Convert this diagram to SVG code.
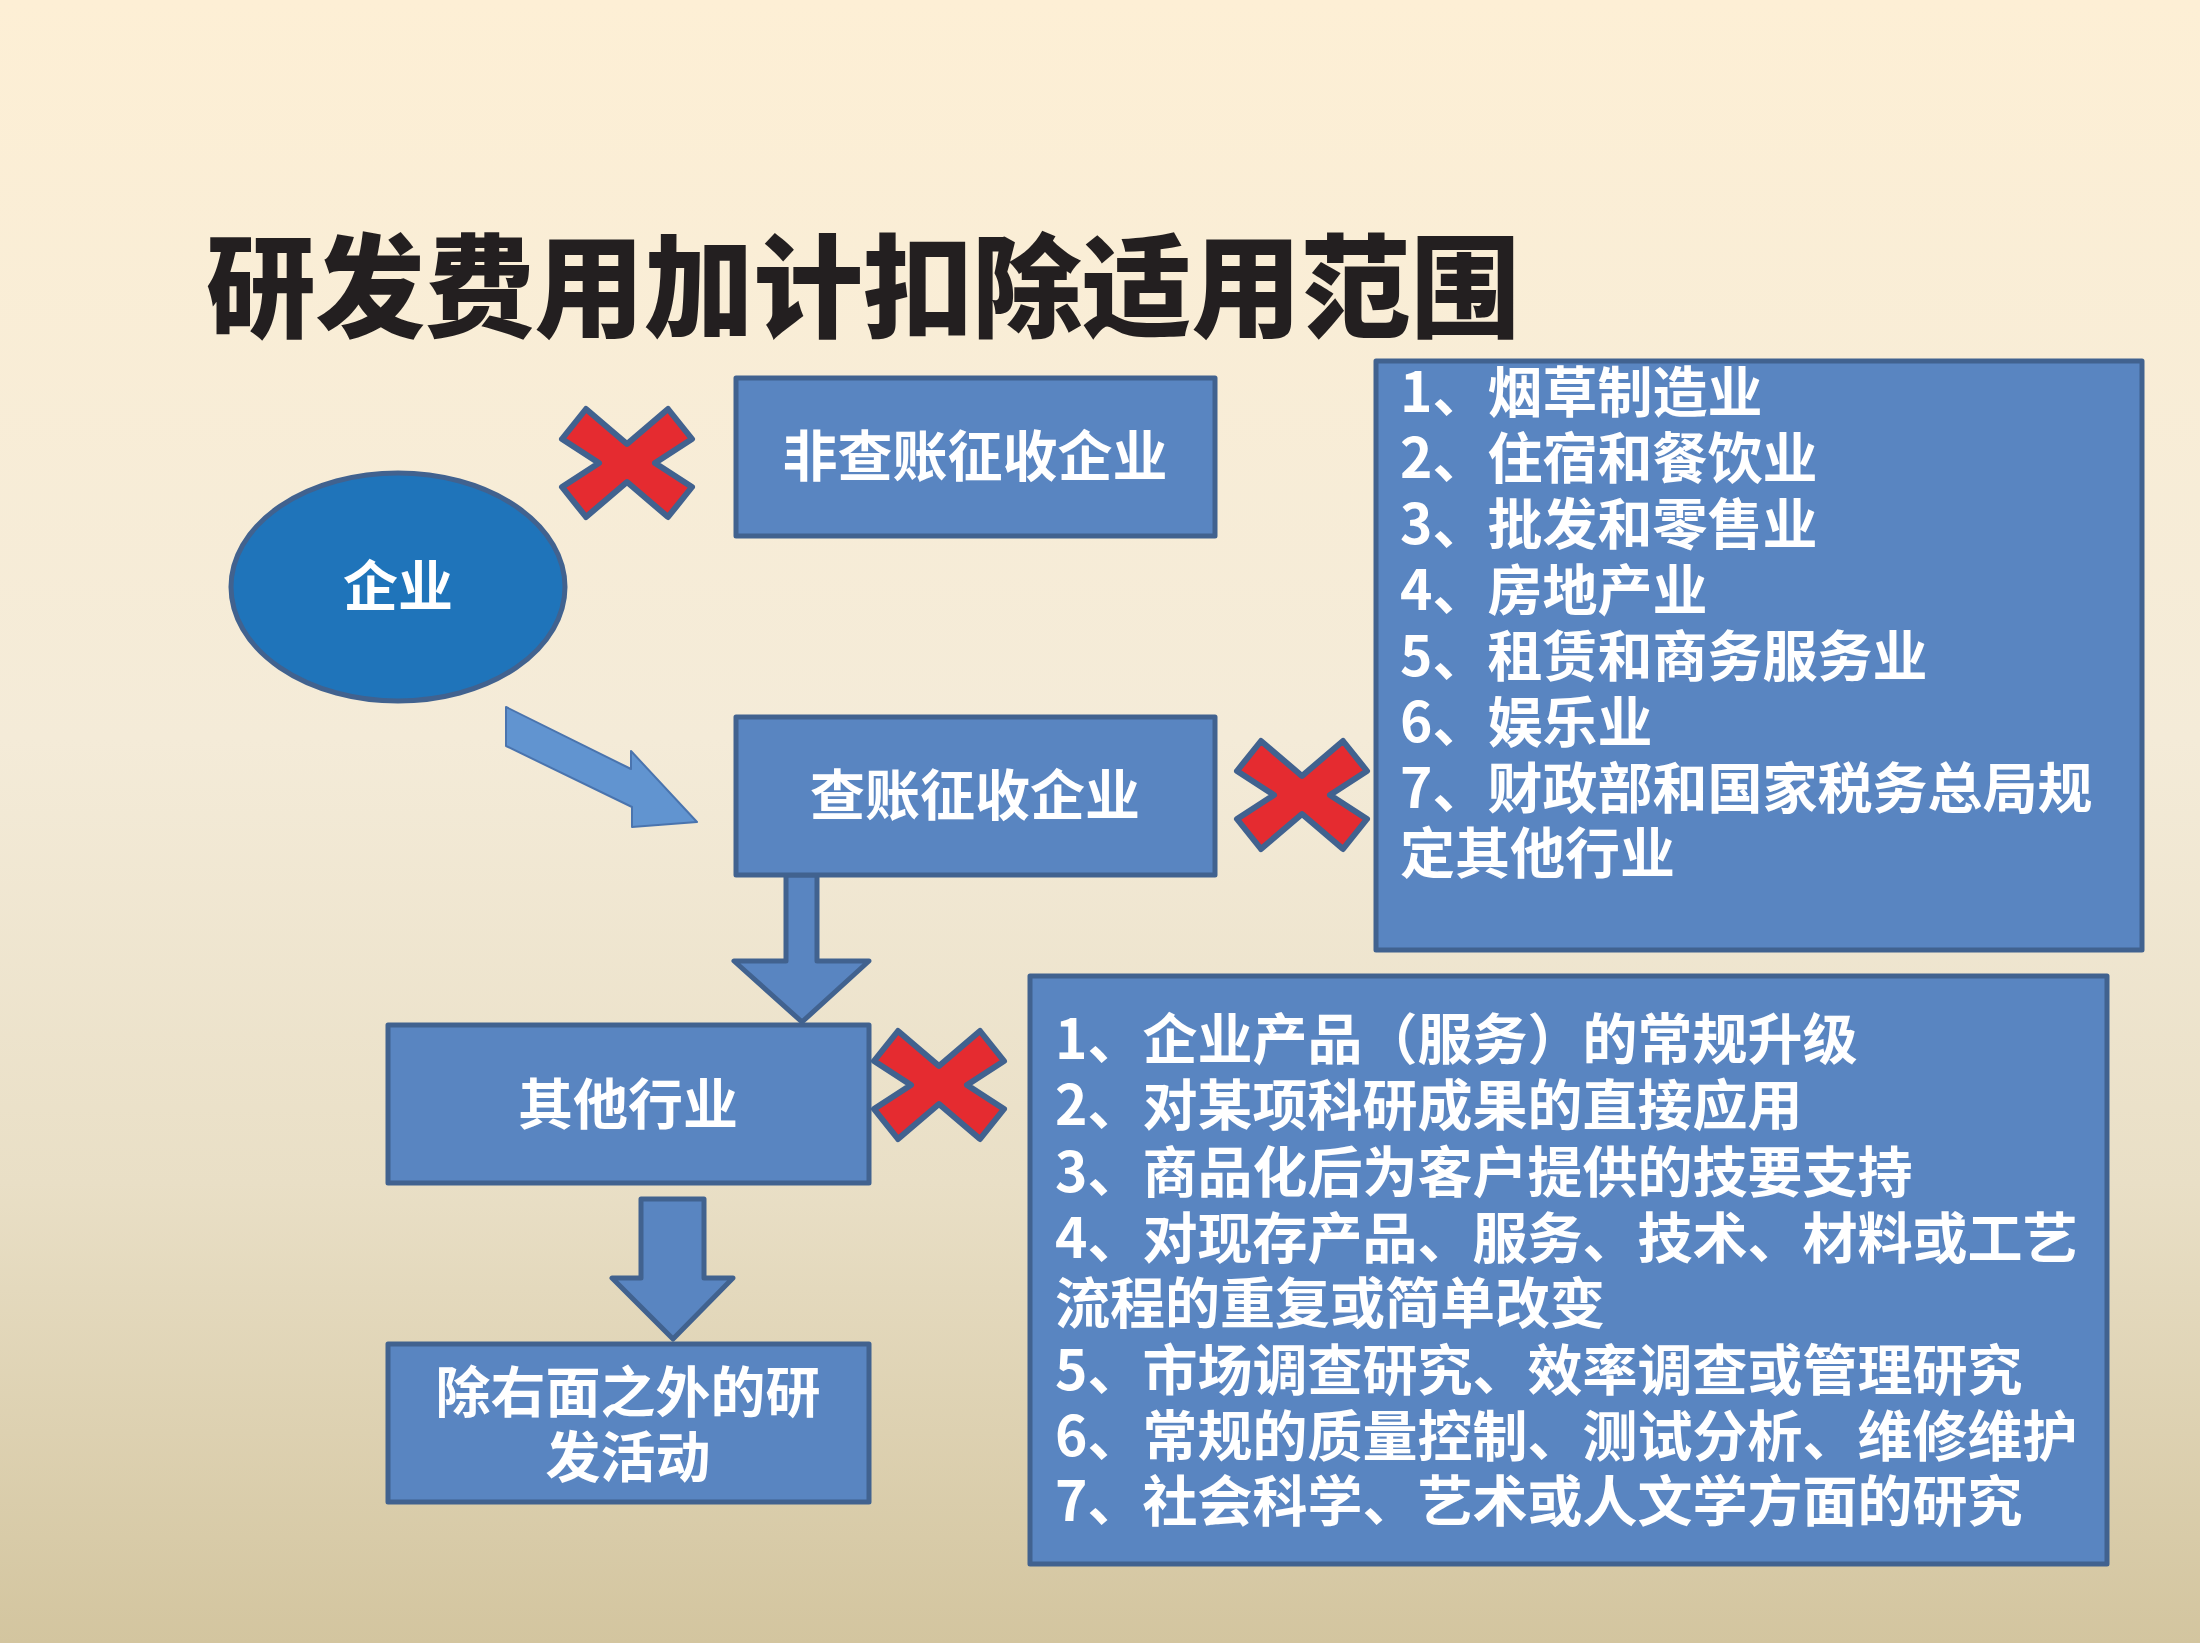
<svg xmlns="http://www.w3.org/2000/svg" width="2200" height="1643" viewBox="0 0 2200 1643">
<defs>
<linearGradient id="bg" x1="0" y1="0" x2="0" y2="1">
<stop offset="0" stop-color="#FDEFD5"/>
<stop offset="0.45" stop-color="#F4EBD8"/>
<stop offset="0.72" stop-color="#E9DFC6"/>
<stop offset="1" stop-color="#D3C59F"/>
</linearGradient>
<polygon id="xmark" points="-41,-54 0,-19 41,-54 65,-24 28,0 65,24 41,54 0,19 -41,54 -65,24 -28,0 -65,-24"/>
<style>
.box{fill:#5985C1;stroke:#41628F;stroke-width:5;stroke-linejoin:round}
.ell{fill:#1F74BA;stroke:#41628F;stroke-width:5}
.arr{fill:#5985C1;stroke:#41628F;stroke-width:5;stroke-linejoin:round}
.darr{fill:#6194D0;stroke:#4A74AE;stroke-width:2;stroke-linejoin:round}
.x{fill:#E52B30;stroke:#41628F;stroke-width:6;stroke-linejoin:round}
text{font-family:"Noto Sans CJK SC","Noto Sans",sans-serif;font-weight:700;fill:#FFFFFF}
.t{font-size:55px}
.c{text-anchor:middle}
.title{font-size:112px;font-weight:900;fill:#231F20}
</style>
</defs>
<rect x="0" y="0" width="2200" height="1643" fill="url(#bg)"/>
<text class="title" x="206" y="329" textLength="1314" lengthAdjust="spacingAndGlyphs">研发费用加计扣除适用范围</text>

<g id="connectors">
<polygon class="darr" points="506,707 631,769 631,751 697,822 632,827 632,807 506,746"/>
<polygon class="arr" points="786,875 817,875 817,961 869,961 802,1022 734,961 786,961"/>
<polygon class="arr" points="641,1199 704,1199 704,1278 733,1278 673,1339 612,1278 641,1278"/>
</g>

<g id="node-qiye">
<ellipse class="ell" cx="398" cy="587" rx="167" ry="114"/>
<text class="t c" x="398" y="606">企业</text>
</g>
<g id="node-feichazhang">
<rect class="box" x="736" y="378" width="479" height="158"/>
<text class="t c" x="975" y="476">非查账征收企业</text>
</g>
<g id="node-chazhang">
<rect class="box" x="736" y="717" width="479" height="158"/>
<text class="t c" x="975" y="815">查账征收企业</text>
</g>
<g id="node-qita">
<rect class="box" x="388" y="1025" width="481" height="158"/>
<text class="t c" x="628" y="1124">其他行业</text>
</g>
<g id="node-chuyoumian">
<rect class="box" x="388" y="1344" width="481" height="158"/>
<text class="t c" x="628" y="1412">除右面之外的研</text>
<text class="t c" x="628" y="1477">发活动</text>
</g>
<g id="node-hangye">
<rect class="box" x="1376" y="361" width="766" height="589"/>
<text class="t" x="1400" y="412">1、烟草制造业</text>
<text class="t" x="1400" y="478">2、住宿和餐饮业</text>
<text class="t" x="1400" y="544">3、批发和零售业</text>
<text class="t" x="1400" y="610">4、房地产业</text>
<text class="t" x="1400" y="676">5、租赁和商务服务业</text>
<text class="t" x="1400" y="742">6、娱乐业</text>
<text class="t" x="1400" y="808">7、财政部和国家税务总局规</text>
<text class="t" x="1400" y="873">定其他行业</text>
</g>
<g id="node-huodong">
<rect class="box" x="1030" y="976" width="1077" height="588"/>
<text class="t" x="1055" y="1059">1、企业产品（服务）的常规升级</text>
<text class="t" x="1055" y="1125">2、对某项科研成果的直接应用</text>
<text class="t" x="1055" y="1192">3、商品化后为客户提供的技要支持</text>
<text class="t" x="1055" y="1258">4、对现存产品、服务、技术、材料或工艺</text>
<text class="t" x="1055" y="1323">流程的重复或简单改变</text>
<text class="t" x="1055" y="1390">5、市场调查研究、效率调查或管理研究</text>
<text class="t" x="1055" y="1456">6、常规的质量控制、测试分析、维修维护</text>
<text class="t" x="1055" y="1521">7、社会科学、艺术或人文学方面的研究</text>
</g>
<g id="x1"><use href="#xmark" class="x" x="627" y="463"/></g>
<g id="x2"><use href="#xmark" class="x" x="1302" y="795"/></g>
<g id="x3"><use href="#xmark" class="x" x="939" y="1085"/></g>
</svg>
